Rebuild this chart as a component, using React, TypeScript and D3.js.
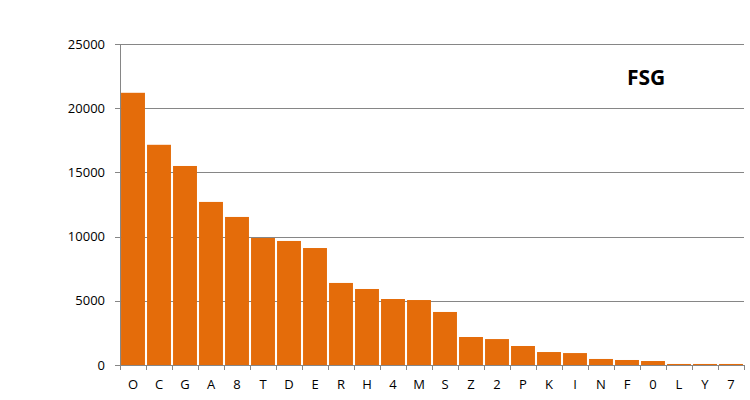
import React from "react";
import * as d3 from "d3";

const categories = ["O","C","G","A","8","T","D","E","R","H","4","M","S","Z","2","P","K","I","N","F","0","L","Y","7"];
const values = [21200,17150,15500,12700,11530,9890,9660,9110,6390,5920,5140,5060,4130,2180,2020,1480,1010,930,470,390,310,80,80,80];
const yTicks = [0,5000,10000,15000,20000,25000];
const title = "FSG";

const W = 750, H = 400;
const M = { left: 120, right: 6, top: 44, bottom: 35 };
const FONT = "'Open Sans', sans-serif";

export default function App() {
  const x = d3.scaleBand<string>().domain(categories).range([M.left, W - M.right]).paddingInner(0.08).paddingOuter(0.04);
  const y = d3.scaleLinear().domain([0, 25000]).range([H - M.bottom, M.top]);
  const step = x.step();
  const x0 = M.left, x1 = W - M.right;
  const y0 = y(0);
  return (
    <svg width={W} height={H} style={{ position: "absolute", left: 0, top: 0, background: "#fff" }}>
      {yTicks.map(t => (
        <g key={t}>
          <line x1={x0 - 5} x2={x1} y1={Math.round(y(t)) + 0.5} y2={Math.round(y(t)) + 0.5} stroke="#868686" strokeWidth={1} />
          <text x={105} y={y(t) + 4.5} textAnchor="end" fontFamily={FONT} fontSize={13} fill="#000">{t}</text>
        </g>
      ))}
      {categories.map((c, i) => (
        <rect key={c} x={x(c)} y={y(values[i])} width={x.bandwidth()} height={y0 - y(values[i])} fill="#E46C0A" />
      ))}
      <line x1={x0 + 0.5} x2={x0 + 0.5} y1={y(25000)} y2={y0} stroke="#868686" />
      <line x1={x0} x2={x1} y1={Math.round(y0) + 0.5} y2={Math.round(y0) + 0.5} stroke="#868686" />
      {d3.range(categories.length + 1).map(i => (
        <line key={i} x1={Math.round(x0 + i * step) + 0.5} x2={Math.round(x0 + i * step) + 0.5} y1={y0} y2={y0 + 5} stroke="#868686" />
      ))}
      {categories.map(c => (
        <text key={c} x={(x(c) as number) + x.bandwidth() / 2} y={389} textAnchor="middle" fontFamily={FONT} fontSize={13} fill="#000">{c}</text>
      ))}
      <text x={627} y={85} fontFamily={FONT} fontSize={21} fontWeight="bold" fill="#000">{title}</text>
    </svg>
  );
}
